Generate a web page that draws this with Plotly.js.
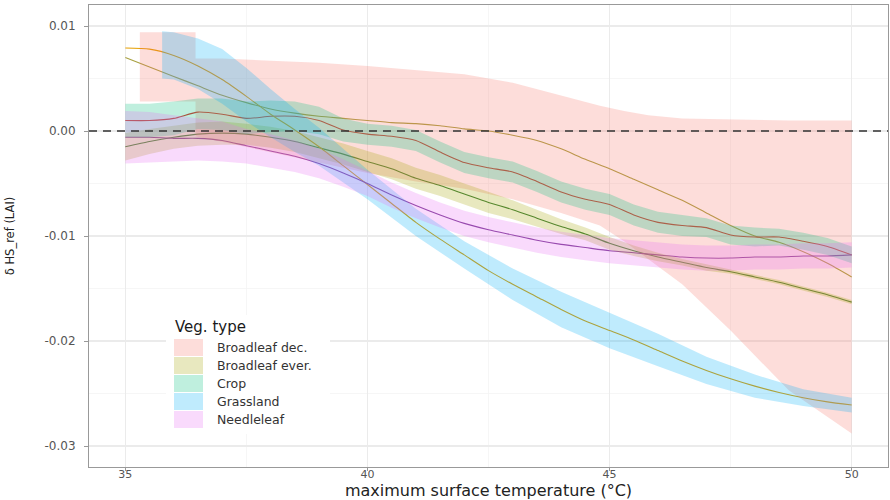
<!DOCTYPE html>
<html><head><meta charset="utf-8">
<script src="https://cdn.plot.ly/plotly-3.0.1.min.js"></script>
<style>html,body{margin:0;padding:0;background:#fff}#chart{width:890px;height:500px}</style>
</head><body><div id="chart"></div>
<script>
// ---------------- data ----------------
const categories = ['Broadleaf dec.', 'Broadleaf ever.', 'Crop', 'Grassland', 'Needleleaf'];
const ribbonColors = ['#F8766D', '#A3A500', '#00BF7D', '#00B0F6', '#E76BF3'];
const lineColors = ['#A8A040', '#3D7F3D', '#E0302A', '#E69F00', '#7E3F98'];

const xs = [35,35.5,36,36.5,37,37.5,38,38.5,39,39.5,40,40.5,41,41.5,42,42.5,43,43.5,44,44.5,45,45.5,46,46.5,47,47.5,48,48.5,49,49.5,50];

const bdecLine = [0.0070,0.0061,0.0052,0.0043,0.0034,0.0027,0.0021,0.0017,0.0014,0.0012,0.0010,0.0008,0.0007,0.0005,0.0002,0.0000,-0.0004,-0.0009,-0.0017,-0.0027,-0.0036,-0.0046,-0.0056,-0.0066,-0.0078,-0.0090,-0.0100,-0.0106,-0.0115,-0.0126,-0.0139];
const bevLine = [-0.0015,-0.0010,-0.0006,-0.0003,-0.0002,-0.0003,-0.0006,-0.0010,-0.0016,-0.0022,-0.0029,-0.0036,-0.0045,-0.0052,-0.0060,-0.0068,-0.0075,-0.0083,-0.0091,-0.0098,-0.0107,-0.0114,-0.0120,-0.0125,-0.0130,-0.0134,-0.0139,-0.0144,-0.0150,-0.0156,-0.0163];
const cropLine = [0.0010,0.0010,0.0012,0.0018,0.0016,0.0012,0.0014,0.0014,0.0010,0.0001,-0.0003,-0.0005,-0.0009,-0.0020,-0.0030,-0.0035,-0.0039,-0.0048,-0.0058,-0.0065,-0.0070,-0.0080,-0.0087,-0.0090,-0.0092,-0.0099,-0.0101,-0.0101,-0.0105,-0.0110,-0.0118];
const grassLine = [0.0079,0.0078,0.0072,0.0062,0.0049,0.0033,0.0016,0.0001,-0.0015,-0.0033,-0.0051,-0.0069,-0.0087,-0.0103,-0.0118,-0.0133,-0.0146,-0.0158,-0.0170,-0.0181,-0.0190,-0.0199,-0.0209,-0.0219,-0.0228,-0.0236,-0.0243,-0.0249,-0.0254,-0.0258,-0.0261];
const needleLine = [-0.0006,-0.0006,-0.0007,-0.0007,-0.0009,-0.0014,-0.0019,-0.0024,-0.0031,-0.0040,-0.0050,-0.0061,-0.0071,-0.0080,-0.0088,-0.0094,-0.0099,-0.0104,-0.0108,-0.0111,-0.0114,-0.0116,-0.0118,-0.0120,-0.0121,-0.0121,-0.0120,-0.0120,-0.0119,-0.0119,-0.0118];

// ribbons (confidence bands)
const bdecX  = [35.3,36.45,36.45,37,38,39,40,41,42,43,44,44.8,45.3,45.8,46.5,47.5,48.7,50];
const bdecHi = [0.0094,0.0094,0.0069,0.0069,0.0067,0.0065,0.0062,0.0058,0.0054,0.0046,0.0034,0.0024,0.0019,0.0015,0.0012,0.0011,0.0010,0.0010];
const bdecLo = [0.0028,0.0028,-0.0005,-0.0010,-0.0020,-0.0030,-0.0040,-0.0048,-0.0055,-0.0065,-0.0078,-0.0090,-0.0105,-0.0122,-0.0146,-0.0190,-0.0247,-0.0288];

const bevHi = [-0.0002,0.0002,0.0005,0.0008,0.0009,0.0007,0.0004,0.0000,-0.0006,-0.0012,-0.0019,-0.0026,-0.0035,-0.0042,-0.0050,-0.0058,-0.0066,-0.0075,-0.0084,-0.0092,-0.0101,-0.0109,-0.0116,-0.0122,-0.0127,-0.0132,-0.0137,-0.0142,-0.0148,-0.0154,-0.0161];
const bevLo = [-0.0028,-0.0022,-0.0017,-0.0014,-0.0013,-0.0013,-0.0016,-0.0020,-0.0026,-0.0032,-0.0039,-0.0046,-0.0055,-0.0062,-0.0070,-0.0078,-0.0084,-0.0091,-0.0098,-0.0104,-0.0113,-0.0119,-0.0124,-0.0128,-0.0133,-0.0136,-0.0141,-0.0146,-0.0152,-0.0158,-0.0165];

const cropHi = [0.0026,0.0026,0.0028,0.0031,0.0031,0.0028,0.0029,0.0028,0.0023,0.0012,0.0007,0.0005,0.0001,-0.0010,-0.0020,-0.0025,-0.0029,-0.0038,-0.0048,-0.0055,-0.0060,-0.0070,-0.0077,-0.0080,-0.0083,-0.0090,-0.0092,-0.0093,-0.0097,-0.0102,-0.0110];
const cropLo = [-0.0006,-0.0006,-0.0004,0.0002,0.0001,-0.0003,-0.0001,0.0000,-0.0003,-0.0010,-0.0013,-0.0015,-0.0019,-0.0030,-0.0040,-0.0045,-0.0049,-0.0058,-0.0068,-0.0075,-0.0080,-0.0090,-0.0097,-0.0100,-0.0101,-0.0108,-0.0110,-0.0109,-0.0113,-0.0118,-0.0126];

const grassX  = [35.76,36,36.5,37,37.5,38,38.5,39,39.5,40,41,42,43,44,45,46,47,48,49,50];
const grassHi = [0.0095,0.0094,0.0088,0.0078,0.0060,0.0040,0.0021,0.0003,-0.0017,-0.0037,-0.0074,-0.0105,-0.0131,-0.0153,-0.0173,-0.0193,-0.0215,-0.0232,-0.0246,-0.0254];
const grassLo = [0.0050,0.0049,0.0040,0.0026,0.0009,-0.0006,-0.0020,-0.0033,-0.0049,-0.0065,-0.0100,-0.0131,-0.0161,-0.0187,-0.0207,-0.0224,-0.0241,-0.0254,-0.0262,-0.0268];

const needleHi = [0.0019,0.0018,0.0015,0.0012,0.0009,0.0002,-0.0003,-0.0009,-0.0017,-0.0027,-0.0038,-0.0049,-0.0059,-0.0068,-0.0076,-0.0082,-0.0087,-0.0092,-0.0096,-0.0099,-0.0102,-0.0104,-0.0106,-0.0108,-0.0109,-0.0109,-0.0108,-0.0108,-0.0107,-0.0107,-0.0106];
const needleLo = [-0.0031,-0.0030,-0.0029,-0.0028,-0.0029,-0.0031,-0.0035,-0.0039,-0.0045,-0.0053,-0.0062,-0.0073,-0.0083,-0.0092,-0.0100,-0.0106,-0.0111,-0.0116,-0.0120,-0.0123,-0.0126,-0.0128,-0.0130,-0.0132,-0.0133,-0.0133,-0.0132,-0.0132,-0.0131,-0.0131,-0.0130];

const xTickVals = [35, 40, 45, 50];
const yTickVals = [-0.03, -0.02, -0.01, 0.00, 0.01];
const yTickText = ['-0.03', '-0.02', '-0.01', '0.00', '0.01'];
const yMinorVals = [-0.025, -0.015, -0.005, 0.005];
const xTitle = 'maximum surface temperature (°C)';
const yTitle = 'δ HS_ref (LAI)';
const legendTitle = 'Veg. type';

// ---------------- build ----------------
function hexA(hex, a) {
  const n = parseInt(hex.slice(1), 16);
  return 'rgba(' + ((n >> 16) & 255) + ',' + ((n >> 8) & 255) + ',' + (n & 255) + ',' + a + ')';
}
const ALPHA = 0.25;
const seriesLines = [bdecLine, bevLine, cropLine, grassLine, needleLine];
const ribbons = [
  [bdecX, bdecLo, bdecHi],
  [xs, bevLo, bevHi],
  [xs, cropLo, cropHi],
  [grassX, grassLo, grassHi],
  [xs, needleLo, needleHi]
];

const traces = [];
seriesLines.forEach((ys, i) => {
  traces.push({
    type: 'scatter', mode: 'lines', x: xs, y: ys, name: categories[i],
    line: {color: lineColors[i], width: 1.1, shape: 'spline', smoothing: 0.6},
    showlegend: false, hoverinfo: 'skip'
  });
});
ribbons.forEach((r, i) => {
  const [rx, lo, hi] = r;
  traces.push({
    type: 'scatter', mode: 'lines',
    x: rx.concat(rx.slice().reverse()),
    y: hi.concat(lo.slice().reverse()),
    fill: 'toself', fillcolor: hexA(ribbonColors[i], ALPHA),
    line: {width: 0, color: 'rgba(0,0,0,0)'},
    name: categories[i], showlegend: false, hoverinfo: 'skip'
  });
});

// plot area in pixels (for legend placement)
const PL = 89, PR = 888, PT = 5, PB = 467;
const px = v => (v - PL) / (PR - PL);
const py = v => (PB - v) / (PB - PT);

const shapes = [
  {type: 'line', xref: 'paper', x0: 0, x1: 1, yref: 'y', y0: 0, y1: 0,
   line: {color: '#333333', width: 1.4, dash: '8px,6px'}, layer: 'above'},
  {type: 'rect', xref: 'paper', yref: 'paper', x0: px(166), x1: px(330), y0: py(434), y1: py(315),
   fillcolor: '#ffffff', line: {width: 0}, layer: 'above'}
];
const annotations = [
  {xref: 'paper', yref: 'paper', x: px(173), y: py(327), xanchor: 'left', yanchor: 'middle',
   text: legendTitle, showarrow: false, font: {family: 'DejaVu Sans', size: 15, color: '#1a1a1a'}}
];
categories.forEach((c, i) => {
  const top = 339 + i * 18;
  shapes.push({type: 'rect', xref: 'paper', yref: 'paper', x0: px(174), x1: px(203), y0: py(top + 17), y1: py(top),
    fillcolor: hexA(ribbonColors[i], ALPHA), line: {width: 0}, layer: 'above'});
  annotations.push({xref: 'paper', yref: 'paper', x: px(215), y: py(top + 8.5), xanchor: 'left', yanchor: 'middle',
    text: c, showarrow: false, font: {family: 'DejaVu Sans', size: 12.5, color: '#333333'}});
});

const layout = {
  width: 890, height: 500,
  margin: {l: PL, r: 890 - PR, t: PT, b: 500 - PB, pad: 0},
  paper_bgcolor: '#ffffff', plot_bgcolor: '#ffffff',
  showlegend: false,
  font: {family: 'DejaVu Sans', color: '#555555'},
  xaxis: {
    range: [34.25, 50.75], tickmode: 'array', tickvals: xTickVals,
    ticks: 'outside', ticklen: 3, tickcolor: '#999999', tickwidth: 1,
    showline: true, mirror: true, linecolor: '#999999', linewidth: 1,
    showgrid: true, gridcolor: '#EBEBEB', gridwidth: 1.3, zeroline: false,
    minor: {tickmode: 'linear', tick0: 35, dtick: 2.5, showgrid: true, gridcolor: '#F4F4F4', gridwidth: 0.8},
    tickfont: {family: 'DejaVu Sans', size: 11, color: '#555555'},
    ticklabelstandoff: -6,
    title: {text: xTitle, font: {family: 'DejaVu Sans', size: 16, color: '#222222'}, standoff: 6}
  },
  yaxis: {
    range: [-0.032, 0.012], tickmode: 'array', tickvals: yTickVals, ticktext: yTickText,
    ticks: 'outside', ticklen: 4, tickcolor: '#999999', tickwidth: 1,
    showline: true, mirror: true, linecolor: '#999999', linewidth: 1,
    showgrid: true, gridcolor: '#EBEBEB', gridwidth: 1.3, zeroline: false,
    minor: {tickmode: 'array', tickvals: yMinorVals, showgrid: true, gridcolor: '#F4F4F4', gridwidth: 0.8},
    tickfont: {family: 'DejaVu Sans', size: 12, color: '#555555'},
    ticklabelstandoff: 6,
    title: {text: yTitle, font: {family: 'DejaVu Sans', size: 11.5, color: '#222222'}, standoff: 27}
  },
  shapes: shapes,
  annotations: annotations
};

Plotly.newPlot('chart', traces, layout, {displayModeBar: false, staticPlot: true});
</script>
</body></html>
